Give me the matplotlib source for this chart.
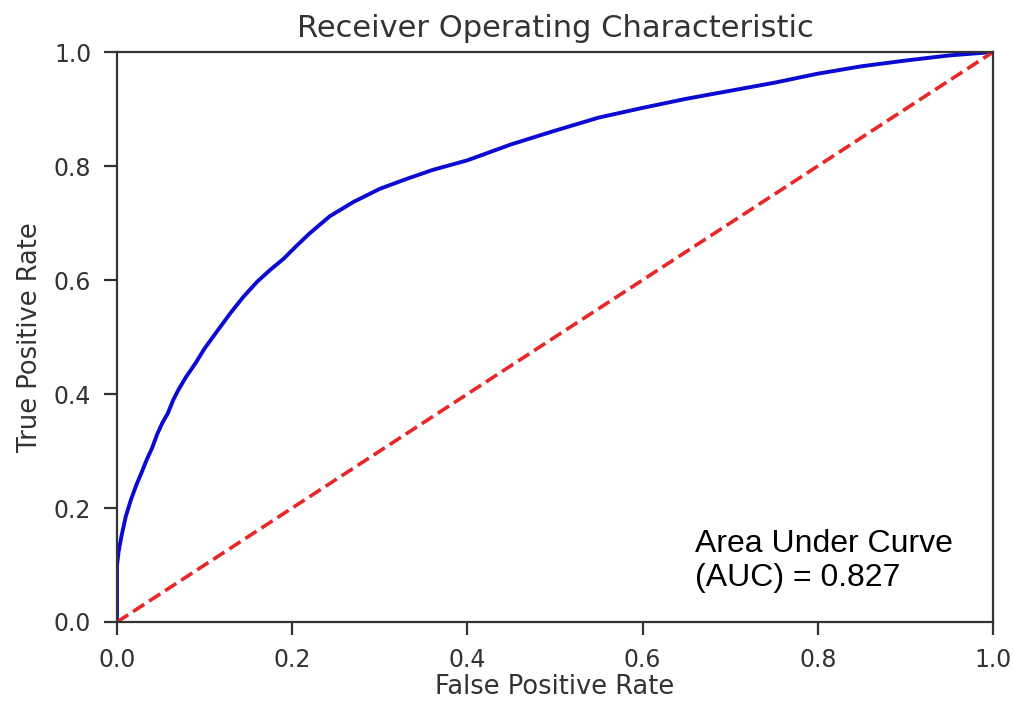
import matplotlib.pyplot as plt

# ROC curve points (false positive rate, true positive rate)
fpr = [0.0, 0.0, 0.002, 0.005, 0.010, 0.016, 0.022, 0.028, 0.034, 0.040, 0.046,
       0.052, 0.058, 0.064, 0.070, 0.078, 0.090, 0.100, 0.118, 0.130, 0.144,
       0.160, 0.175, 0.190, 0.205, 0.220, 0.243, 0.270, 0.300, 0.330, 0.360,
       0.400, 0.450, 0.500, 0.550, 0.600, 0.650, 0.700, 0.750, 0.800, 0.850,
       0.900, 0.950, 1.0]
tpr = [0.0, 0.10, 0.125, 0.150, 0.185, 0.215, 0.240, 0.262, 0.285, 0.305, 0.330,
       0.350, 0.366, 0.389, 0.407, 0.428, 0.455, 0.480, 0.518, 0.543, 0.570,
       0.597, 0.618, 0.637, 0.660, 0.682, 0.712, 0.737, 0.760, 0.777, 0.793,
       0.810, 0.838, 0.862, 0.885, 0.902, 0.918, 0.932, 0.946, 0.962, 0.975,
       0.985, 0.994, 1.0]
chance = [0.0, 1.0]
roc_auc = 0.827

plt.rcParams['font.family'] = 'DejaVu Sans'
plt.rcParams['font.size'] = 17

fig = plt.figure(figsize=(10.13, 7.01), dpi=100)
ax = fig.add_axes([0.1155, 0.1127, 0.8648, 0.8131])

ax.plot(fpr, tpr, color='#0a0ad2', lw=2.8)
ax.plot(chance, chance, '--', color='#e82828', lw=2.6)
ax.set_xlim(0, 1)
ax.set_ylim(0, 1)

for sp in ax.spines.values():
    sp.set_linewidth(1.6)
    sp.set_color('#333333')
ax.tick_params(width=1.6, length=9.5, colors='#333333', labelcolor='#333333')
ax.tick_params(axis='x', pad=9)
ax.tick_params(axis='y', pad=9)

ax.set_title('Receiver Operating Characteristic', fontsize=22, color='#333333', pad=11)
ax.set_xlabel('False Positive Rate', fontsize=18.5, color='#333333', labelpad=2)
ax.set_ylabel('True Positive Rate', fontsize=18.5, color='#333333', labelpad=8)

ax.text(0.66, 0.05, 'Area Under Curve\n(AUC) = %.3f' % roc_auc,
        family='Liberation Sans', fontsize=23, color='black',
        linespacing=1.2, transform=ax.transAxes, va='bottom', ha='left')

fig.savefig('out.png', dpi=100)
